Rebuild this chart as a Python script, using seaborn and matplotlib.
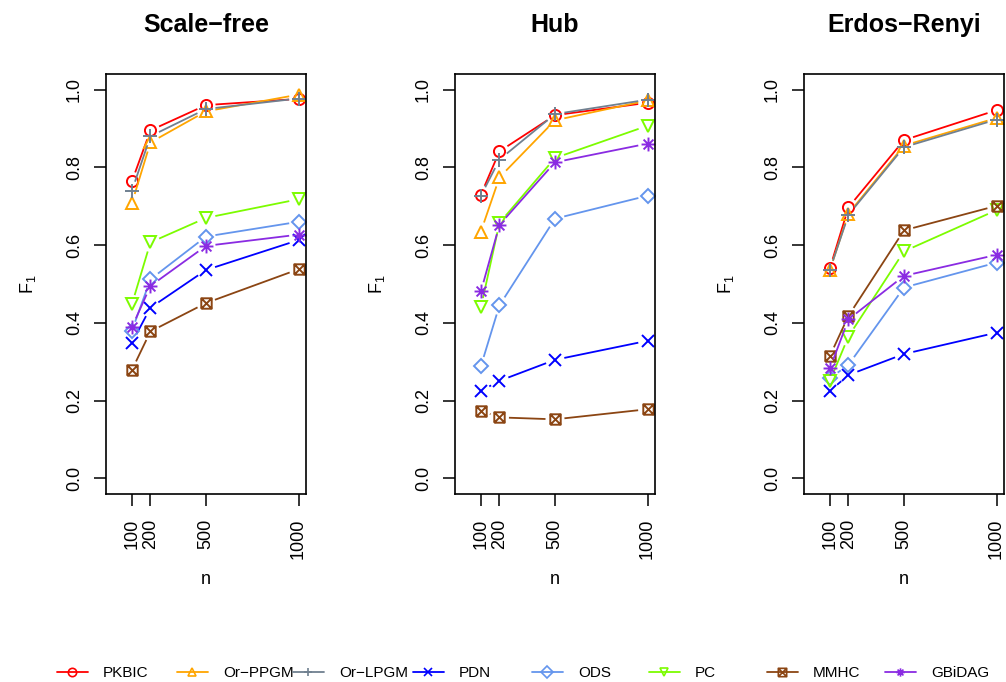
import numpy as np
import matplotlib
matplotlib.use("Agg")
import matplotlib.pyplot as plt
from matplotlib.path import Path
from matplotlib.lines import Line2D
import seaborn as sns

# ---------------- data ----------------
n_values = [100, 200, 500, 1000]
n_labels = ["100", "200", "500", "1000"]
panels = ["Scale\u2212free", "Hub", "Erdos\u2212Renyi"]
methods = ["PKBIC", "Or\u2212PPGM", "Or\u2212LPGM", "PDN", "ODS", "PC", "MMHC", "GBiDAG"]

scale_free = {
    "PKBIC":  [0.764, 0.895, 0.960, 0.976],
    "Or-PPGM": [0.708, 0.864, 0.944, 0.987],
    "Or-LPGM": [0.740, 0.880, 0.950, 0.977],
    "PDN":    [0.349, 0.439, 0.536, 0.613],
    "ODS":    [0.380, 0.512, 0.622, 0.660],
    "PC":     [0.448, 0.607, 0.670, 0.718],
    "MMHC":   [0.279, 0.378, 0.451, 0.538],
    "GBiDAG": [0.389, 0.495, 0.598, 0.627],
}
hub = {
    "PKBIC":  [0.730, 0.841, 0.934, 0.966],
    "Or-PPGM": [0.635, 0.774, 0.921, 0.972],
    "Or-LPGM": [0.727, 0.820, 0.937, 0.974],
    "PDN":    [0.225, 0.251, 0.305, 0.354],
    "ODS":    [0.289, 0.445, 0.668, 0.727],
    "PC":     [0.440, 0.657, 0.824, 0.907],
    "MMHC":   [0.174, 0.157, 0.152, 0.178],
    "GBiDAG": [0.481, 0.652, 0.813, 0.861],
}
erdos_renyi = {
    "PKBIC":  [0.541, 0.697, 0.870, 0.947],
    "Or-PPGM": [0.536, 0.681, 0.856, 0.927],
    "Or-LPGM": [0.537, 0.678, 0.852, 0.923],
    "PDN":    [0.225, 0.266, 0.320, 0.375],
    "ODS":    [0.258, 0.292, 0.491, 0.555],
    "PC":     [0.251, 0.365, 0.584, 0.690],
    "MMHC":   [0.315, 0.418, 0.638, 0.701],
    "GBiDAG": [0.283, 0.409, 0.521, 0.575],
}
panel_data = [scale_free, hub, erdos_renyi]
keys = ["PKBIC", "Or-PPGM", "Or-LPGM", "PDN", "ODS", "PC", "MMHC", "GBiDAG"]

colors = ["#FF0000", "#FFA500", "#708090", "#0000FF", "#6495ED", "#7CFC00", "#8B4513", "#8A2BE2"]

# R pch 7: square with a cross inside
sq_x = Path([(-1, -1), (1, -1), (1, 1), (-1, 1), (-1, -1),
             (-1, -1), (1, 1), (-1, 1), (1, -1)],
            [Path.MOVETO, Path.LINETO, Path.LINETO, Path.LINETO, Path.LINETO,
             Path.MOVETO, Path.LINETO, Path.MOVETO, Path.LINETO])
# R pch 8: asterisk (plus and x)
r = 0.7071
asterisk = Path([(-1, 0), (1, 0), (0, -1), (0, 1), (-r, -r), (r, r), (-r, r), (r, -r)],
                [Path.MOVETO, Path.LINETO] * 4)
markers = ["o", "^", "+", "x", "D", "v", sq_x, asterisk]
msizes = [8, 8.5, 10, 8, 7.5, 8.5, 7.5, 10]

# ---------------- style ----------------
sns.set_theme(style="ticks")
plt.rcParams["font.family"] = ["Liberation Sans", "DejaVu Sans"]
plt.rcParams["mathtext.fontset"] = "custom"
plt.rcParams["mathtext.rm"] = "Liberation Sans"
plt.rcParams["mathtext.default"] = "regular"
plt.rcParams["text.color"] = "black"
plt.rcParams["axes.labelcolor"] = "black"
plt.rcParams["xtick.color"] = "black"
plt.rcParams["ytick.color"] = "black"

W, H = 1006, 682
fig = plt.figure(figsize=(W / 100, H / 100), dpi=100)

lefts = [106, 455, 804]
ax_w, ax_top, ax_bot = 200, 74, 494
gap_px = 9.5


def gap_line(ax, x, y, color, lw=1.3):
    pts = ax.transData.transform(np.column_stack([x, y]))
    inv = ax.transData.inverted()
    for p0, p1 in zip(pts[:-1], pts[1:]):
        d = p1 - p0
        L = np.hypot(*d)
        if L <= 2 * gap_px:
            continue
        u = d / L
        seg = inv.transform(np.vstack([p0 + u * gap_px, p1 - u * gap_px]))
        ax.plot(seg[:, 0], seg[:, 1], color=color, lw=lw, solid_capstyle="butt")


for pi, (title, data) in enumerate(zip(panels, panel_data)):
    ax = fig.add_axes([lefts[pi] / W, (H - ax_bot) / H, ax_w / W, (ax_bot - ax_top) / H])
    ax.set_xlim(-40, 1040)
    ax.set_ylim(-0.04, 1.04)
    for k, c, m, ms in zip(keys, colors, markers, msizes):
        vals = data[k]
        gap_line(ax, n_values, vals, c)
        sns.lineplot(x=n_values, y=vals, ax=ax, color=c, marker=m, linestyle="",
                     markersize=ms, markeredgewidth=1.4, markerfacecolor="none",
                     markeredgecolor=c, errorbar=None)
        ln = ax.lines[-1]
        ln.set_markerfacecolor("none")
        ln.set_markeredgecolor(c)
        ln.set_linestyle("")
    ax.set_xlim(-40, 1040)
    ax.set_ylim(-0.04, 1.04)
    ax.set_xticks(n_values)
    ax.set_xticklabels(n_labels, rotation=90, fontsize=13)
    ax.set_yticks([0, 0.2, 0.4, 0.6, 0.8, 1.0])
    ax.set_yticklabels(["0.0", "0.2", "0.4", "0.6", "0.8", "1.0"], rotation=90,
                       va="center", fontsize=13)
    ax.tick_params(axis="both", direction="out", length=8.5, width=1.1, color="black",
                   labelcolor="black")
    ax.tick_params(axis="x", pad=9)
    ax.tick_params(axis="y", pad=8)
    for s in ax.spines.values():
        s.set_visible(True)
        s.set_color("black")
        s.set_linewidth(1.2)
    ax.set_xlabel("n", fontsize=13, labelpad=9, color="black")
    ax.set_ylabel("F$_1$", fontsize=13, labelpad=20, color="black")
    ax.set_title(title, fontsize=18, fontweight="bold", pad=30, color="black")
    ax.grid(False)

# legend: equally spaced entries like R's horizontal legend
leg_x = [57, 177, 293, 413, 532, 649, 767, 885]
for lab, c, m, x0 in zip(methods, colors, markers, leg_x):
    h = Line2D([], [], color=c, lw=1.3, marker=m, markersize=6, markeredgewidth=1.2,
               markerfacecolor="none", markeredgecolor=c)
    fig.legend([h], [lab], loc="center left", bbox_to_anchor=(x0 / W, 1 - 673 / H),
               frameon=False, fontsize=11, handlelength=2.0, handletextpad=1.0,
               borderpad=0, borderaxespad=0, labelcolor="black")

fig.savefig("out.png", dpi=100)
